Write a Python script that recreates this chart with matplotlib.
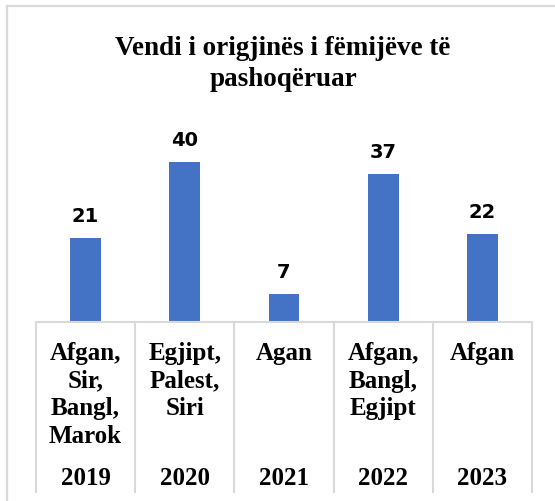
import matplotlib.pyplot as plt
from matplotlib.lines import Line2D
from matplotlib.transforms import blended_transform_factory
import numpy as np

# Data
years = ['2019', '2020', '2021', '2022', '2023']
countries = ['Afgan,\nSir,\nBangl,\nMarok', 'Egjipt,\nPalest,\nSiri', 'Agan',
             'Afgan,\nBangl,\nEgjipt', 'Afgan']
counts = [21, 40, 7, 37, 22]
title = 'Vendi i origjinës i fëmijëve të\npashoqëruar'

W, H = 555, 502
fig = plt.figure(figsize=(W / 100, H / 100), dpi=100)
fig.patch.set_facecolor('white')

def fx(px):
    return px / W

def fy(px):
    return 1 - px / H

grid_col = '#d9d9d9'
bar_col = '#4472C4'

# plot area in pixels: x 36..532, baseline at y=323
ax = fig.add_axes([fx(36), fy(323), fx(532) - fx(36), fy(143) - fy(323)])
x = np.arange(len(years))
ax.bar(x, counts, width=0.31, color=bar_col)
ax.set_xlim(-0.5, len(years) - 0.5)
ax.set_ylim(0, 45)
for s in ['top', 'left', 'right']:
    ax.spines[s].set_visible(False)
ax.spines['bottom'].set_color(grid_col)
ax.spines['bottom'].set_linewidth(1.5)
ax.set_xticks([])
ax.set_yticks([])
ax.patch.set_alpha(0)

# value labels
for xi, v in zip(x, counts):
    ax.annotate(str(v), (xi, v), xytext=(0, 12.5), textcoords='offset points',
                ha='center', va='baseline', fontsize=14, fontweight='bold',
                family='DejaVu Sans', color='black')

# category table below the axis
tr = blended_transform_factory(ax.transData, fig.transFigure)
for i in range(len(years) + 1):
    ax.add_line(Line2D([i - 0.5, i - 0.5], [fy(323), fy(493)], transform=tr,
                       color=grid_col, lw=1.5, clip_on=False))
for xi, c, yr in zip(x, countries, years):
    for k, line in enumerate(c.split('\n')):
        ax.text(xi, fy(360 + 27.6 * k), line, transform=tr, ha='center',
                va='baseline', fontsize=18, fontweight='bold',
                family='Liberation Serif')
    ax.text(xi, fy(485), yr, transform=tr, ha='center', va='baseline',
            fontsize=18, fontweight='bold', family='Liberation Serif')

# title
for k, line in enumerate(title.split('\n')):
    fig.text(fx(283), fy(55 + 31 * k), line, ha='center', va='baseline',
             fontsize=19.5, fontweight='bold', family='Liberation Serif')

# outer chart frame (partially visible)
fig.add_artist(Line2D([fx(7), fx(7)], [0, fy(7)], transform=fig.transFigure,
                      color=grid_col, lw=1.6))
fig.add_artist(Line2D([fx(7), 1], [fy(7), fy(7)], transform=fig.transFigure,
                      color=grid_col, lw=1.6))

fig.savefig('out.png', dpi=100)
